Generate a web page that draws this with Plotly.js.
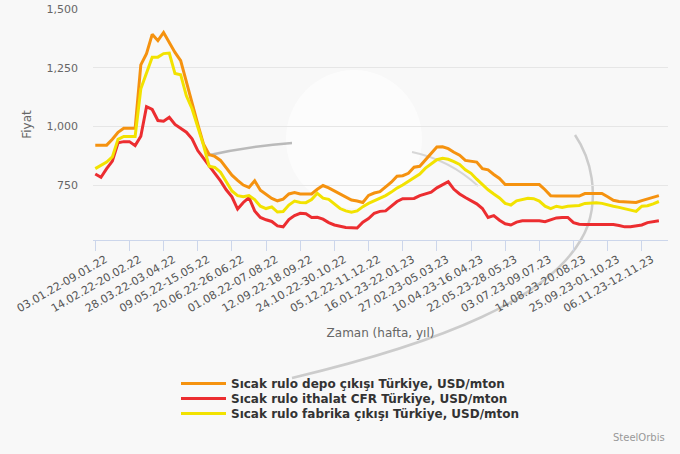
<!DOCTYPE html>
<html>
<head>
<meta charset="utf-8">
<script src="https://cdn.plot.ly/plotly-3.0.1.min.js"></script>
<style>
  html, body { margin: 0; padding: 0; background: #f8f8f8; }
  #chart { width: 680px; height: 454px; }
</style>
</head>
<body>
<div id="chart"></div>
<script>
// ---- DATA ----
// Weekly categories: 100 weeks starting 03.01.22
const firstWeekStart = "2022-01-03";
const weekCount = 100;

const tickLabels = [
  "03.01.22-09.01.22", "14.02.22-20.02.22", "28.03.22-03.04.22", "09.05.22-15.05.22",
  "20.06.22-26.06.22", "01.08.22-07.08.22", "12.09.22-18.09.22", "24.10.22-30.10.22",
  "05.12.22-11.12.22", "16.01.23-22.01.23", "27.02.23-05.03.23", "10.04.23-16.04.23",
  "22.05.23-28.05.23", "03.07.23-09.07.23", "14.08.23-20.08.23", "25.09.23-01.10.23",
  "06.11.23-12.11.23"
];

const seriesNames = [
  "Sıcak rulo depo çıkışı Türkiye, USD/mton",
  "Sıcak rulo ithalat CFR Türkiye, USD/mton",
  "Sıcak rulo fabrika çıkışı Türkiye, USD/mton"
];

const depo = [
  920, 920, 920, 945, 975, 992, 992, 992, 1262, 1310,
  1392, 1365, 1400, 1355, 1315, 1280, 1185, 1100, 1010, 925,
  880, 872, 855, 822, 792, 770, 750, 740, 768, 728,
  712, 693, 683, 690, 712, 718, 712, 712, 712, 732,
  748, 738, 725, 712, 700, 686, 682, 676, 706, 716,
  722, 740, 762, 788, 790, 800, 826, 830, 858, 885,
  912, 913, 905, 890, 877, 855, 850, 848, 820, 815,
  795, 778, 752, 752, 752, 752, 752, 752, 752, 730,
  704, 703, 703, 703, 703, 703, 714, 714, 714, 714,
  700, 685, 680, 678, 676, 676, 684, 690, 697, 705
];

const ithalat = [
  797, 783, 820, 852, 930, 935, 935, 918, 958, 1084,
  1072, 1025, 1022, 1039, 1008, 992, 975, 947, 897, 865,
  830, 800, 768, 730, 700, 648, 676, 697, 640, 612,
  602, 595, 576, 572, 603, 620, 630, 628, 612, 613,
  605, 590, 580, 573, 569, 568, 567, 592, 607, 630,
  638, 640, 660, 680, 692, 692, 693, 705, 712, 720,
  738, 750, 764, 732, 712, 697, 685, 670, 650, 612,
  620, 600, 585, 580, 592, 598, 598, 598, 598, 594,
  602, 610, 612, 612, 590, 583, 582, 582, 582, 582,
  582, 582, 578, 572, 572, 575, 580, 590, 595, 598
];

const fabrika = [
  820, 835, 848, 870, 945, 957, 957, 957, 1160, 1225,
  1295, 1295, 1310, 1312, 1225, 1220, 1130, 1075, 1000, 920,
  830, 825, 805, 765, 725, 705, 700, 705, 688, 660,
  650, 657, 635, 637, 665, 682, 676, 675, 688, 715,
  694, 689, 668, 650, 640, 634, 640, 658, 672, 682,
  692, 705, 720, 737, 750, 765, 782, 797, 822, 842,
  858, 864, 860, 850, 838, 815, 800, 775, 752, 730,
  712, 695, 672, 665, 683, 690, 694, 692, 682, 660,
  650, 660, 655, 660, 662, 663, 672, 675, 675, 672,
  665, 660, 655, 650, 643, 638, 660, 662, 670, 680
];

const yTickVals = [750, 1000, 1250, 1500];

// ---- build week labels ----
function fmt(d) {
  const dd = String(d.getUTCDate()).padStart(2, "0");
  const mm = String(d.getUTCMonth() + 1).padStart(2, "0");
  const yy = String(d.getUTCFullYear()).slice(2);
  return dd + "." + mm + "." + yy;
}
const weeks = [];
const start = new Date(firstWeekStart + "T00:00:00Z");
for (let i = 0; i < weekCount; i++) {
  const a = new Date(start.getTime() + i * 7 * 86400000);
  const b = new Date(a.getTime() + 6 * 86400000);
  weeks.push(fmt(a) + "-" + fmt(b));
}

// ---- layout helpers (pixel -> paper) ----
const W = 680, H = 454;
const ML = 93, MR = 12, MT = 9, MB = 214;
const PW = W - ML - MR, PH = H - MT - MB;
const px = x => (x - ML) / PW;
const py = y => (H - MB - y) / PH;
function P(pts) {
  return pts.map(s => typeof s === "string" ? s : px(s[0]).toFixed(4) + "," + py(s[1]).toFixed(4)).join(" ");
}

const colors = ["#f5920f", "#ec2d30", "#f2e200"];
const ys = [depo, ithalat, fabrika];
const legendIds = ["legend", "legend2", "legend3"];

const traces = ys.map((v, k) => ({
  type: "scatter",
  mode: "lines",
  x: weeks,
  y: v,
  name: seriesNames[k],
  legend: legendIds[k],
  line: { color: colors[k], width: 3 }
}));

const shapes = [
  { type: "circle", xref: "paper", yref: "paper", layer: "below",
    x0: px(286), x1: px(422), y0: py(208), y1: py(70),
    fillcolor: "rgba(255,255,255,0.6)", line: { width: 0 } },
  { type: "path", xref: "paper", yref: "paper", layer: "below",
    path: P(["M", [205, 156], "Q", [248, 146], [292, 143]]),
    line: { color: "rgba(170,170,170,0.8)", width: 2.5 } },
  { type: "path", xref: "paper", yref: "paper", layer: "below",
    path: P(["M", [412, 152], "Q", [450, 160], [478, 186]]),
    line: { color: "rgba(190,190,190,0.6)", width: 2 } },
  { type: "path", xref: "paper", yref: "paper", layer: "below",
    path: P(["M", [292, 378], "C", [430, 345], [560, 300], [588, 225], "C", [598, 195], [592, 160], [575, 135]]),
    line: { color: "rgba(185,185,185,0.7)", width: 2.5 } }
];

function legendAt(rowCenterY) {
  return {
    x: px(176), y: py(rowCenterY - 14), xanchor: "left", yanchor: "top",
    bgcolor: "rgba(0,0,0,0)",
    font: { family: "DejaVu Sans, sans-serif", size: 12, color: "#333333", weight: "bold" },
    itemwidth: 45
  };
}

const layout = {
  width: W, height: H,
  autosize: false,
  margin: { l: ML, r: MR, t: MT, b: MB, pad: 0, autoexpand: false },
  paper_bgcolor: "#f8f8f8",
  plot_bgcolor: "#f8f8f8",
  font: { family: "DejaVu Sans, sans-serif", color: "#666666", size: 11 },
  showlegend: true,
  legend: legendAt(383),
  legend2: legendAt(398),
  legend3: legendAt(413),
  xaxis: {
    type: "category",
    range: [-0.4, 100.6],
    tickmode: "array",
    tickvals: tickLabels,
    ticktext: tickLabels,
    tickangle: -30,
    ticklabelshift: 10,
    ticklabelstandoff: -2,
    tickfont: { size: 11, color: "#555555" },
    showgrid: false,
    showline: true, linecolor: "#ccd6eb", linewidth: 1,
    ticks: "outside", ticklen: 10, tickcolor: "#ccd6eb",
    zeroline: false,
    automargin: false,
    title: { text: "Zaman (hafta, yıl)", font: { size: 12, color: "#666666" }, standoff: 14 },
    fixedrange: true
  },
  yaxis: {
    range: [516, 1500],
    tickmode: "array",
    tickvals: yTickVals,
    tickformat: ",",
    tickfont: { size: 11, color: "#666666" },
    gridcolor: "#e6e6e6",
    showline: false,
    zeroline: false,
    automargin: false,
    ticklabelstandoff: 14,
    title: { text: "Fiyat", font: { size: 12, color: "#666666" }, standoff: 12 },
    fixedrange: true
  },
  shapes: shapes,
  annotations: [
    { xref: "paper", yref: "paper", x: px(667), y: py(437), xanchor: "right", yanchor: "middle",
      text: "SteelOrbis", showarrow: false, font: { size: 10, color: "#999999" } }
  ]
};

Plotly.newPlot("chart", traces, layout, { displayModeBar: false, staticPlot: true });
</script>
</body>
</html>
